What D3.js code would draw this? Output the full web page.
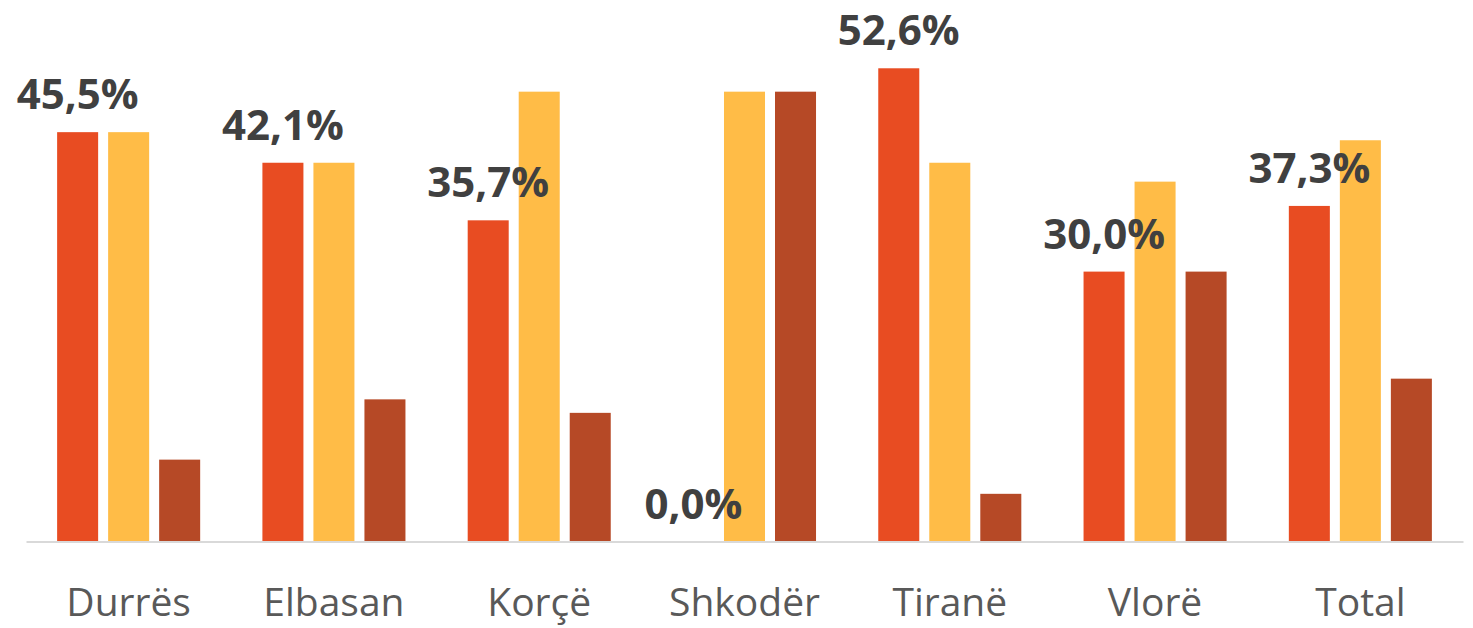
<!DOCTYPE html>
<html>
<head>
<meta charset="utf-8">
<script src="https://cdn.jsdelivr.net/npm/d3@7"></script>
<style>
  body { margin: 0; background: #fff; }
  svg { display: block; }
</style>
</head>
<body>
<div id="chart"></div>
<script>
var svgWidth = 1473;
var svgHeight = 628;

// data
var categories = ["Durrës", "Elbasan", "Korçë", "Shkodër", "Tiranë", "Vlorë", "Total"];
var seriesNames = ["s1", "s2", "s3"];
var series1 = [45.5, 42.1, 35.7, 0.0, 52.6, 30.0, 37.3];
var series2 = [45.5, 42.1, 50.0, 50.0, 42.1, 40.0, 44.6];
var series3 = [9.1, 15.8, 14.3, 50.0, 5.3, 30.0, 18.1];
var colors = ["#E84C22", "#FFBC47", "#B64926"];

var allSeries = [series1, series2, series3];

var svg = d3.select("#chart")
  .append("svg")
  .attr("width", svgWidth)
  .attr("height", svgHeight);

var baseline = 541.5;

// scales
var xScale = d3.scaleBand()
  .domain(categories)
  .range([26, 1463]);

var xInner = d3.scaleBand()
  .domain(seriesNames)
  .range([0, xScale.bandwidth()])
  .paddingInner(0.196)
  .paddingOuter(0.61);

var yScale = d3.scaleLinear()
  .domain([0, 60.19])
  .range([baseline, 0]);

// bars
var groups = svg.selectAll("g.cat")
  .data(categories)
  .enter()
  .append("g")
  .attr("class", "cat")
  .attr("transform", d => `translate(${xScale(d)}, 0)`);

groups.selectAll("rect")
  .data((d, i) => seriesNames.map((s, j) => ({ s: s, v: allSeries[j][i], c: colors[j] })))
  .enter()
  .append("rect")
  .attr("x", d => xInner(d.s))
  .attr("width", xInner.bandwidth())
  .attr("y", d => yScale(d.v))
  .attr("height", d => baseline - yScale(d.v))
  .attr("fill", d => d.c);

// axis line + category labels
var bottomAxis = d3.axisBottom(xScale).tickSize(0).tickPadding(0);
var axisG = svg.append("g")
  .attr("transform", `translate(0, ${baseline})`)
  .call(bottomAxis);

axisG.select(".domain")
  .attr("stroke", "#d9d9d9")
  .attr("stroke-width", 2);

axisG.selectAll("text")
  .attr("y", 74)
  .attr("dy", 0)
  .attr("fill", "#595959")
  .style("font-family", "'Open Sans', sans-serif")
  .style("font-size", "39px");

// data labels, first series only
svg.selectAll("text.lbl")
  .data(categories)
  .enter()
  .append("text")
  .attr("class", "lbl")
  .attr("x", d => xScale(d) + xInner("s1") + xInner.bandwidth() / 2)
  .attr("y", (d, i) => yScale(series1[i]) - 23)
  .attr("text-anchor", "middle")
  .attr("fill", "#404040")
  .style("font-family", "'Open Sans', sans-serif")
  .style("font-weight", "bold")
  .style("font-size", "42px")
  .text((d, i) => series1[i].toFixed(1).replace(".", ",") + "%");
</script>
</body>
</html>
